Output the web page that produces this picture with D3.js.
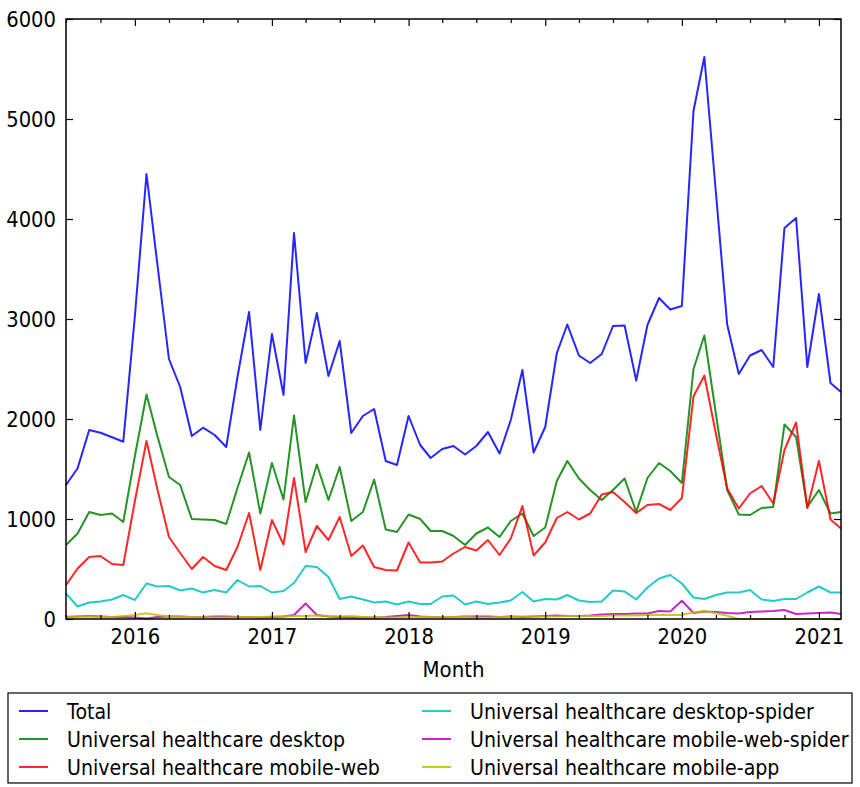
<!DOCTYPE html>
<html>
<head>
<meta charset="utf-8">
<script src="https://cdn.jsdelivr.net/npm/d3@7"></script>
<style>
body { margin: 0; background: #fff; }
text { font-family: "DejaVu Sans", sans-serif; fill: #000; }
</style>
</head>
<body>
<script>
// monthly page views
var months = [
  "2015-07","2015-08","2015-09","2015-10","2015-11","2015-12",
  "2016-01","2016-02","2016-03","2016-04","2016-05","2016-06","2016-07","2016-08","2016-09","2016-10","2016-11","2016-12",
  "2017-01","2017-02","2017-03","2017-04","2017-05","2017-06","2017-07","2017-08","2017-09","2017-10","2017-11","2017-12",
  "2018-01","2018-02","2018-03","2018-04","2018-05","2018-06","2018-07","2018-08","2018-09","2018-10","2018-11","2018-12",
  "2019-01","2019-02","2019-03","2019-04","2019-05","2019-06","2019-07","2019-08","2019-09","2019-10","2019-11","2019-12",
  "2020-01","2020-02","2020-03","2020-04","2020-05","2020-06","2020-07","2020-08","2020-09","2020-10","2020-11","2020-12",
  "2021-01","2021-02","2021-03"
];

var total = [1340,1507,1890,1863,1817,1773, 3030,4450,3550,2600,2320,1830,1913,1840,1720,2420,3070,1890,
  2850,2240,3860,2560,3060,2430,2780,1860,2030,2100,1580,1540, 2030,1740,1610,1700,1730,1645,1730,1870,1655,1990,2490,1665,
  1920,2660,2945,2635,2560,2650,2930,2935,2385,2940,3210,3095, 3130,5080,5620,4260,2945,2450,2635,2690,2520,3910,4010,2520,
  3250,2360,2270];
var desktop = [740,855,1070,1040,1055,970, 1630,2245,1830,1420,1340,1000,995,990,950,1310,1665,1055,
  1560,1195,2035,1170,1545,1190,1520,980,1070,1395,895,870, 1045,1000,880,880,830,740,855,915,820,980,1055,830,
  915,1380,1580,1405,1290,1190,1290,1405,1070,1410,1560,1480, 1360,2500,2835,2050,1290,1045,1040,1110,1120,1945,1820,1120,
  1290,1055,1070];
var mobileWeb = [340,505,620,630,550,540, 1180,1780,1300,820,660,500,620,530,490,720,1060,490,
  990,745,1410,670,930,790,1020,630,735,520,490,485, 765,565,565,575,655,720,685,790,640,805,1130,635,
  765,1010,1070,995,1055,1245,1270,1170,1060,1140,1150,1090, 1210,2225,2435,1850,1305,1105,1255,1330,1155,1690,1965,1110,
  1580,995,905];
var desktopSpider = [255,125,165,175,195,240, 190,355,325,330,285,305,265,290,265,390,325,330,
  265,280,360,530,520,420,200,225,195,165,175,145, 175,150,150,225,235,145,175,150,165,185,270,175,
  200,195,240,185,170,175,285,275,195,315,405,440, 355,215,200,240,265,265,290,195,180,200,200,265,
  325,265,265];
var mobileWebSpider = [20,25,30,25,20,20, 15,5,20,25,25,20,20,25,25,20,20,15,
  20,25,40,155,40,25,20,15,15,15,20,30, 40,25,20,20,20,25,25,25,20,25,20,25,
  30,35,30,30,35,45,50,50,55,55,80,75, 183,60,75,70,60,55,70,75,80,90,50,55,
  60,65,50];
var mobileApp = [20,25,25,20,20,30, 40,57,40,25,20,20,20,15,15,20,20,20,
  25,25,30,30,35,30,25,30,20,20,15,15, 20,20,20,20,20,20,15,15,20,20,25,25,
  25,25,30,30,30,30,35,35,35,40,40,40, 40,67,80,57,33,0,0,0,0,0,0,0,
  0,0,0];

var seriesNames = ["Total", "Universal healthcare desktop", "Universal healthcare mobile-web",
  "Universal healthcare desktop-spider", "Universal healthcare mobile-web-spider", "Universal healthcare mobile-app"];
var seriesValues = [total, desktop, mobileWeb, desktopSpider, mobileWebSpider, mobileApp];
var colors = ["#0000ff", "#008000", "#ff0000", "#00bfbf", "#bf00bf", "#bfbf00"];
var yTicks = [0, 1000, 2000, 3000, 4000, 5000, 6000];
var yearTicks = ["2016-01", "2017-01", "2018-01", "2019-01", "2020-01", "2021-01"];

var margin = {top: 19, right: 19, bottom: 168, left: 66},
    width = 860 - margin.left - margin.right,
    height = 787 - margin.top - margin.bottom;

var parse = d3.timeParse("%Y-%m");
var dates = months.map(parse);

var x = d3.scaleTime()
    .domain(d3.extent(dates))
    .range([0, width]);
var y = d3.scaleLinear()
    .domain([0, 6000])
    .range([height, 0]);

var svg = d3.select("body").append("svg")
    .attr("width", 860)
    .attr("height", 787);

var g = svg.append("g")
    .attr("transform", "translate(" + margin.left + "," + margin.top + ")");

// lines
var line = d3.line()
    .x(function(d, i) { return x(dates[i]); })
    .y(function(d) { return y(d); });

seriesValues.forEach(function(vals, k) {
    g.append("path")
        .datum(vals)
        .attr("d", line)
        .attr("fill", "none")
        .attr("stroke", colors[k])
        .attr("stroke-opacity", 0.85)
        .attr("stroke-width", 2)
        .attr("stroke-linejoin", "round");
});

// ticks (inward, on all four sides)
var yearDates = yearTicks.map(parse);
var quarterDates = d3.timeMonth.every(3).range(dates[0], dates[dates.length - 1])
    .filter(function(d) { return d.getMonth() != 0; });

var fmtYear = d3.timeFormat("%Y");

var xBottom = g.append("g")
    .attr("transform", "translate(0," + height + ")")
    .call(d3.axisBottom(x).tickValues(yearDates).tickFormat(fmtYear)
        .tickSizeInner(-7).tickSizeOuter(0).tickPadding(9));
g.append("g")
    .attr("transform", "translate(0," + height + ")")
    .call(d3.axisBottom(x).tickValues(quarterDates).tickFormat("")
        .tickSizeInner(-4).tickSizeOuter(0));
g.append("g")
    .call(d3.axisTop(x).tickValues(yearDates).tickFormat("")
        .tickSizeInner(-7).tickSizeOuter(0));
g.append("g")
    .call(d3.axisTop(x).tickValues(quarterDates).tickFormat("")
        .tickSizeInner(-4).tickSizeOuter(0));

var yLeft = g.append("g")
    .call(d3.axisLeft(y).tickValues(yTicks).tickFormat(d3.format("d"))
        .tickSizeInner(-7).tickSizeOuter(0).tickPadding(10));
g.append("g")
    .attr("transform", "translate(" + width + ",0)")
    .call(d3.axisRight(y).tickValues(yTicks).tickFormat("")
        .tickSizeInner(-7).tickSizeOuter(0));

g.selectAll(".domain").remove();
g.selectAll(".tick line").attr("stroke", "#000").attr("stroke-width", 1.2);

// the picture's glyphs are narrower than DejaVu, squeeze them a bit
xBottom.selectAll("text")
    .attr("font-size", 22)
    .attr("font-family", "DejaVu Sans")
    .attr("fill", "#000")
    .attr("transform", "scale(0.89,1)");
yLeft.selectAll("text")
    .attr("font-size", 22)
    .attr("font-family", "DejaVu Sans")
    .attr("fill", "#000")
    .attr("x", 0)
    .attr("transform", "translate(-10,0) scale(0.89,1)");

// frame
g.append("rect")
    .attr("width", width)
    .attr("height", height)
    .attr("fill", "none")
    .attr("stroke", "#000")
    .attr("stroke-width", 1.5);

// axis label
svg.append("text")
    .attr("transform", "translate(" + (margin.left + width / 2) + ",677) scale(0.9,1)")
    .attr("text-anchor", "middle")
    .attr("font-size", 22)
    .text("Month");

// legend
var legend = svg.append("g");
legend.append("rect")
    .attr("x", 8)
    .attr("y", 693)
    .attr("width", 844)
    .attr("height", 90)
    .attr("fill", "#fff")
    .attr("stroke", "#000")
    .attr("stroke-width", 1.2);

seriesNames.forEach(function(name, k) {
    var col = Math.floor(k / 3), row = k % 3;
    var lx = col == 0 ? 19 : 422;
    var ly = 711 + row * 28;
    legend.append("line")
        .attr("x1", lx)
        .attr("x2", lx + 29)
        .attr("y1", ly)
        .attr("y2", ly)
        .attr("stroke", colors[k])
        .attr("stroke-opacity", 0.85)
        .attr("stroke-width", 2);
    legend.append("text")
        .attr("transform", "translate(" + (lx + 48) + "," + (ly + 8) + ") scale(0.865,1)")
        .attr("font-size", 22)
        .text(name);
});
</script>
</body>
</html>
